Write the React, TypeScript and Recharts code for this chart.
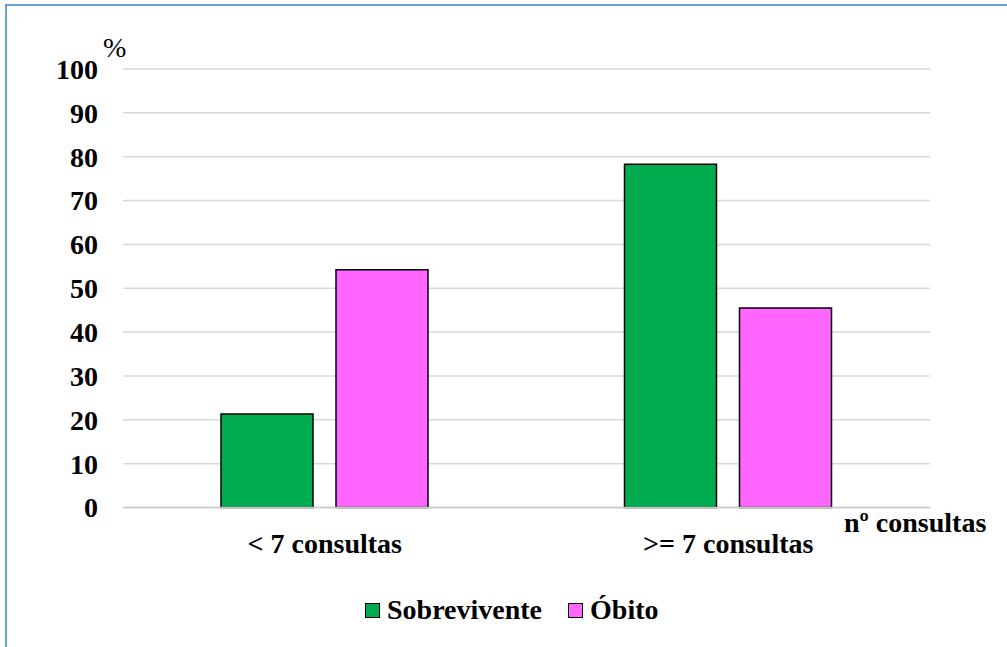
import { BarChart, Bar, XAxis, YAxis, CartesianGrid, Legend, Label } from "recharts"

const categories = ["< 7 consultas", ">= 7 consultas"]
const sobrevivente = [21.3, 78.3]
const obito = [54.2, 45.5]
const yTicks = [0, 10, 20, 30, 40, 50, 60, 70, 80, 90, 100]

const SERIES = [
  { key: "sobrevivente", name: "Sobrevivente", color: "#00ac4f" },
  { key: "obito", name: "Óbito", color: "#ff66ff" },
]

const FONT = "Liberation Serif, Times New Roman, Times, DejaVu Serif, serif"

const data = categories.map((cat, i) => ({
  cat,
  sobrevivente: sobrevivente[i],
  obito: obito[i],
}))

function LegendContent() {
  return (
    <div
      style={{
        display: "flex",
        alignItems: "center",
        height: 40,
        fontFamily: FONT,
        fontWeight: "bold",
        fontSize: 28,
        color: "#000",
      }}
    >
      {SERIES.map((s, i) => (
        <div key={s.key} style={{ display: "flex", alignItems: "center", marginLeft: i === 0 ? 0 : 26 }}>
          <span
            style={{
              display: "inline-block",
              width: 13,
              height: 13,
              background: s.color,
              border: "1.5px solid #000",
              marginRight: 7,
            }}
          />
          <span>{s.name}</span>
        </div>
      ))}
    </div>
  )
}

export default function App() {
  return (
    <div
      style={{
        position: "absolute",
        left: 0,
        top: 0,
        width: 1007,
        height: 647,
        overflow: "hidden",
        background: "#fff",
        fontFamily: FONT,
      }}
    >
      <div
        style={{
          position: "absolute",
          left: 5,
          top: 4,
          width: 1100,
          height: 800,
          border: "2px solid #66a0dc",
        }}
      />
      <div style={{ position: "absolute", left: 0, top: 0 }}>
        <BarChart
          width={1007}
          height={647}
          data={data}
          margin={{ top: 69, right: 77, left: 63, bottom: 17 }}
          barSize={92}
          barGap={23}
          style={{ fontFamily: FONT }}
        >
          <CartesianGrid vertical={false} stroke="#d9d9d9" strokeWidth={1.5} />
          <XAxis
            dataKey="cat"
            height={82.5}
            tickLine={false}
            tickSize={0}
            tickMargin={26}
            axisLine={{ stroke: "#c8c8c8", strokeWidth: 1.5 }}
            tick={{ fill: "#000", fontFamily: FONT, fontWeight: "bold", fontSize: 28 }}
          >
            <Label
              content={(props: any) => {
                const vb = props.viewBox || { x: 123, y: 507.5, width: 807 }
                return (
                  <text
                    x={vb.x + vb.width - 86}
                    y={vb.y + 24.5}
                    fill="#000"
                    fontFamily={FONT}
                    fontWeight="bold"
                    fontSize={28}
                  >
                    nº consultas
                  </text>
                )
              }}
            />
          </XAxis>
          <YAxis
            width={60}
            domain={[0, 100]}
            ticks={yTicks}
            interval={0}
            axisLine={false}
            tickLine={false}
            tickSize={0}
            tickMargin={25}
            tick={{ fill: "#000", fontFamily: FONT, fontWeight: "bold", fontSize: 28 }}
          >
            <Label
              content={(props: any) => {
                const vb = props.viewBox || { x: 63, y: 69, width: 60 }
                return (
                  <text x={vb.x + 40} y={vb.y - 12} fill="#000" fontFamily={FONT} fontSize={28}>
                    %
                  </text>
                )
              }}
            />
          </YAxis>
          <Legend
            verticalAlign="bottom"
            content={<LegendContent />}
            wrapperStyle={{ left: 365, width: "auto", height: 40 }}
          />
          {SERIES.map((s) => (
            <Bar
              key={s.key}
              dataKey={s.key}
              name={s.name}
              fill={s.color}
              stroke="#000"
              strokeWidth={1.5}
              isAnimationActive={false}
            />
          ))}
        </BarChart>
      </div>
    </div>
  )
}
